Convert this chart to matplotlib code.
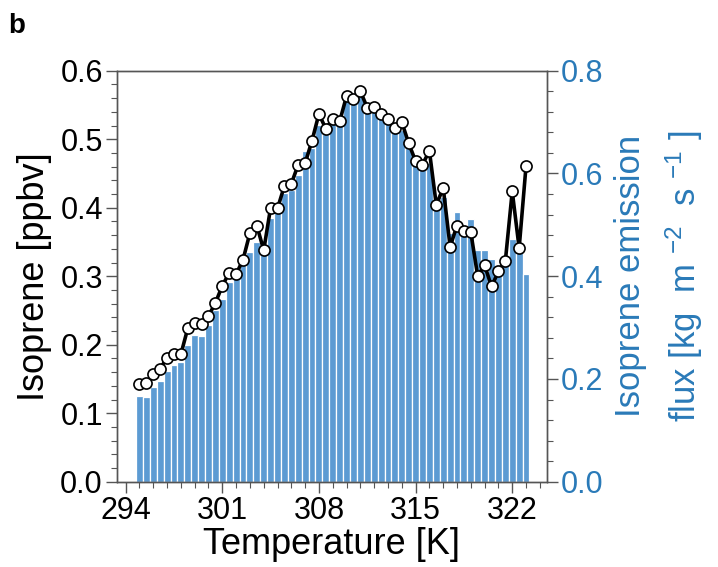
import numpy as np
import matplotlib
matplotlib.use("Agg")
from matplotlib import pyplot as plt
from matplotlib.ticker import MultipleLocator

plt.rcParams['font.family'] = ['Liberation Sans', 'DejaVu Sans']
plt.rcParams['mathtext.fontset'] = 'custom'
plt.rcParams['mathtext.rm'] = 'Liberation Sans'
plt.rcParams['mathtext.it'] = 'Liberation Sans'

# temperature bins [K]
temperature = [295.0, 295.5, 296.0, 296.5, 297.0, 297.5, 298.0, 298.5, 299.0, 299.5,
               300.0, 300.5, 301.0, 301.5, 302.0, 302.5, 303.0, 303.5, 304.0, 304.5,
               305.0, 305.5, 306.0, 306.5, 307.0, 307.5, 308.0, 308.5, 309.0, 309.5,
               310.0, 310.5, 311.0, 311.5, 312.0, 312.5, 313.0, 313.5, 314.0, 314.5,
               315.0, 315.5, 316.0, 316.5, 317.0, 317.5, 318.0, 318.5, 319.0, 319.5,
               320.0, 320.5, 321.0, 321.5, 322.0, 322.5, 323.0]

# isoprene mixing ratio [ppbv]
isoprene = [0.143, 0.144, 0.157, 0.165, 0.181, 0.186, 0.186, 0.224, 0.231, 0.230,
            0.242, 0.261, 0.286, 0.305, 0.303, 0.324, 0.363, 0.374, 0.338, 0.400,
            0.399, 0.432, 0.435, 0.463, 0.465, 0.498, 0.537, 0.515, 0.530, 0.526,
            0.563, 0.558, 0.570, 0.546, 0.547, 0.537, 0.529, 0.516, 0.525, 0.494,
            0.468, 0.463, 0.483, 0.404, 0.429, 0.343, 0.374, 0.366, 0.364, 0.300,
            0.316, 0.285, 0.307, 0.322, 0.424, 0.341, 0.461]

# emission flux (right axis)
flux = [0.167, 0.164, 0.185, 0.197, 0.215, 0.227, 0.233, 0.267, 0.285, 0.283,
        0.305, 0.335, 0.355, 0.389, 0.407, 0.421, 0.448, 0.467, 0.457, 0.513,
        0.525, 0.561, 0.568, 0.597, 0.644, 0.649, 0.695, 0.677, 0.697, 0.707,
        0.741, 0.744, 0.771, 0.727, 0.724, 0.713, 0.704, 0.691, 0.684, 0.649,
        0.624, 0.613, 0.620, 0.548, 0.555, 0.484, 0.525, 0.489, 0.512, 0.451,
        0.451, 0.433, 0.420, 0.429, 0.473, 0.453, 0.404]

xticks = [294, 301, 308, 315, 322]

blue_text = '#2a7ab8'
bar_color = '#5c9bd3'
spine_gray = '#555555'

fig = plt.figure(figsize=(7.18, 5.67), dpi=100)
ax = fig.add_axes([0.1625, 0.1504, 0.599, 0.7249])
ax2 = ax.twinx()

ax2.bar(temperature, flux, width=0.5, color=bar_color, edgecolor='white', linewidth=0.9)
ax.plot(temperature, isoprene, color='black', lw=2.6, marker='o', ms=8,
        mfc='white', mec='black', mew=1.2, zorder=5)

# line on top of bars
ax.set_zorder(ax2.get_zorder() + 1)
ax.patch.set_visible(False)

ax.set_xlim(293.35, 324.5)
ax.set_ylim(0, 0.6)
ax2.set_ylim(0, 0.8)

ax.set_xticks(xticks)
ax.xaxis.set_minor_locator(MultipleLocator(1))
ax.set_yticks([0.0, 0.1, 0.2, 0.3, 0.4, 0.5, 0.6])
ax.yaxis.set_minor_locator(MultipleLocator(0.02))
ax2.set_yticks([0.0, 0.2, 0.4, 0.6, 0.8])
ax2.yaxis.set_minor_locator(MultipleLocator(0.04))

ax.set_yticklabels(['%.1f' % v for v in ax.get_yticks()])
ax2.set_yticklabels(['%.1f' % v for v in ax2.get_yticks()])

for a in (ax, ax2):
    for s in a.spines.values():
        s.set_color(spine_gray)
        s.set_linewidth(1.0)
ax.tick_params(which='major', length=8, width=1.0, color=spine_gray, labelsize=22, pad=2)
ax.tick_params(which='minor', length=4, width=0.8, color=spine_gray)
ax2.tick_params(which='major', length=8, width=1.0, color=spine_gray, labelsize=22,
                labelcolor=blue_text, pad=2)
ax2.tick_params(which='minor', length=4, width=0.8, color=spine_gray)

ax.set_xlabel('Temperature [K]', fontsize=26, labelpad=1)
ax.set_ylabel('Isoprene [ppbv]', fontsize=26, labelpad=6)
ax2.set_ylabel('Isoprene emission\nflux [kg  m $^{\u22122}$  s $^{\u22121}$ ]', fontsize=25,
               color=blue_text, labelpad=8, linespacing=1.5)

fig.text(0.012, 0.955, 'b', fontsize=20, fontweight='bold', va='center', ha='left')

fig.savefig('out.png', dpi=100)
